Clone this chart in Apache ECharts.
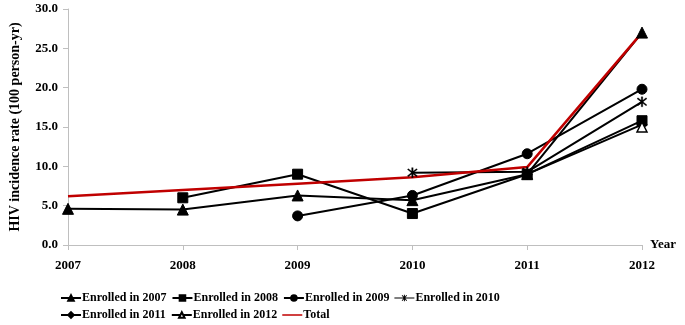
<!DOCTYPE html>
<html>
<head>
<meta charset="utf-8">
<script src="https://cdn.jsdelivr.net/npm/echarts@6/dist/echarts.min.js"></script>
<style>
  html, body { margin: 0; padding: 0; background: #fff; }
  #chart { width: 685px; height: 325px; }
</style>
</head>
<body>
<div id="chart"></div>
<script>
var years = ['2007', '2008', '2009', '2010', '2011', '2012'];
var names = ['Enrolled in 2007', 'Enrolled in 2008', 'Enrolled in 2009',
             'Enrolled in 2010', 'Enrolled in 2011', 'Enrolled in 2012', 'Total'];

var enrolled2007 = [4.6, 4.5, 6.3, 5.7, 9.0, 27.0];
var enrolled2008 = [null, 6.0, 9.0, 4.0, 9.0, 15.8];
var enrolled2009 = [null, null, 3.7, 6.3, 11.6, 19.8];
var enrolled2010 = [null, null, null, 9.2, 9.3, 18.2];
var enrolled2011 = [null, null, null, null, 9.0, 15.3];
var enrolled2012 = [null, null, null, null, null, 15.0];
var total = [6.2, 7.0, 7.8, 8.6, 9.9, 27.0];

// star marker (x with a vertical bar), drawn as a filled shape
var star = 'path://M4.4,0L5.6,0L5.6,10L4.4,10Z' +
           'M1,1.8L1.8,1L9,8.2L8.2,9Z' +
           'M8.2,1L9,1.8L1.8,9L1,8.2Z';
// legend icon for the star series: line + star
var starIcon = 'path://M0,3L20,3L20,4L0,4Z' +
               'M9.5,0.3L10.5,0.3L10.5,6.7L9.5,6.7Z' +
               'M7.3,1L8,0.4L12.7,6L12,6.6Z' +
               'M12,0.4L12.7,1L8,6.6L7.3,6Z';

var font = 'Liberation Serif';

function blackLine(name, data, symbol, size, open) {
    return {
        name: name,
        type: 'line',
        data: data,
        symbol: symbol,
        symbolSize: size,
        showAllSymbol: true,
        lineStyle: { color: '#000', width: 2 },
        itemStyle: {
            color: open ? '#fff' : '#000',
            borderColor: '#000',
            borderWidth: open ? 1.5 : (symbol === star ? 0.3 : 1)
        }
    };
}

var legendData = names.map(function (n) {
    if (n === 'Total') return { name: n, icon: 'path://M0,0L40,0L40,3L0,3Z' };
    if (n === 'Enrolled in 2010') {
        return { name: n, icon: starIcon, itemStyle: { color: '#000', borderWidth: 0 } };
    }
    return n;
});

var myChart = echarts.init(document.getElementById('chart'));

var option = {
    backgroundColor: '#fff',
    animation: false,
    grid: {
        left: 65,
        right: 43,
        top: 9,
        bottom: 80,
        containLabel: false
    },
    legend: {
        left: 55,
        top: 287,
        width: 470,
        itemWidth: 20,
        itemHeight: 7,
        itemGap: 5,
        data: legendData,
        textStyle: { fontFamily: font, fontWeight: 'bold', fontSize: 12, color: '#000', padding: [0, 0, 0, -4] }
    },
    xAxis: {
        type: 'category',
        boundaryGap: false,
        data: years,
        name: 'Year',
        nameLocation: 'end',
        nameGap: 8,
        nameTextStyle: { fontFamily: font, fontWeight: 'bold', fontSize: 13, color: '#000', verticalAlign: 'middle' },
        axisLine: { lineStyle: { color: '#bfbfbf', width: 1 } },
        axisTick: { show: true, alignWithLabel: true, length: 5, lineStyle: { color: '#bfbfbf' } },
        axisLabel: { fontFamily: font, fontWeight: 'bold', fontSize: 13, color: '#000', margin: 14 }
    },
    yAxis: {
        type: 'value',
        min: 0,
        max: 30,
        interval: 5,
        name: 'HIV incidence rate (100 person-yr)',
        nameLocation: 'middle',
        nameGap: 46,
        nameTextStyle: { fontFamily: font, fontWeight: 'bold', fontSize: 14, color: '#000' },
        axisLine: { show: true, lineStyle: { color: '#bfbfbf', width: 1 } },
        axisTick: { show: true, length: 5, lineStyle: { color: '#bfbfbf' } },
        splitLine: { show: false },
        axisLabel: {
            fontFamily: font, fontWeight: 'bold', fontSize: 13, color: '#000', margin: 10,
            formatter: function (v) { return v.toFixed(1); }
        }
    },
    series: [
        blackLine(names[0], enrolled2007, 'triangle', 11),
        blackLine(names[1], enrolled2008, 'rect', 10),
        blackLine(names[2], enrolled2009, 'circle', 10),
        blackLine(names[3], enrolled2010, star, 10),
        blackLine(names[4], enrolled2011, 'diamond', 10),
        blackLine(names[5], enrolled2012, 'triangle', 10, true),
        {
            name: names[6],
            type: 'line',
            data: total,
            symbol: 'none',
            lineStyle: { color: '#c00000', width: 2.5 },
            itemStyle: { color: '#c00000' }
        }
    ]
};

myChart.setOption(option);
</script>
</body>
</html>
